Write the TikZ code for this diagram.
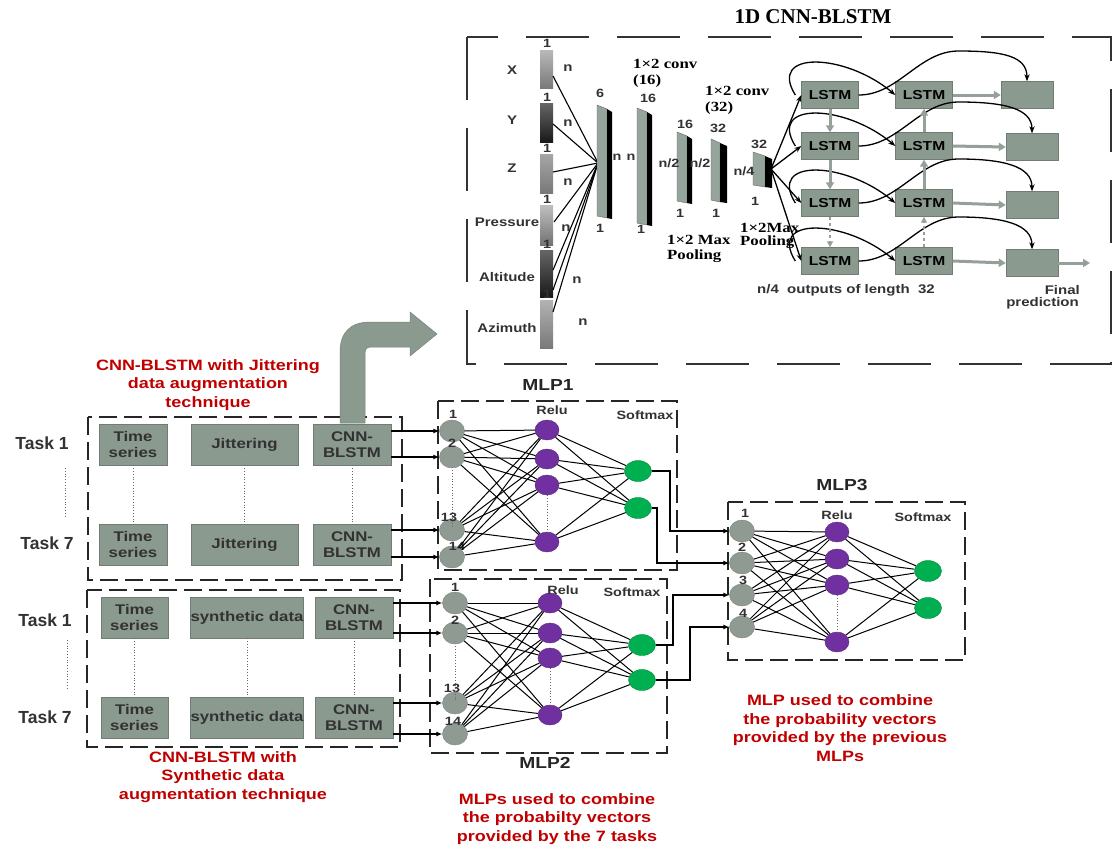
\documentclass[tikz,border=0pt]{standalone}
\usepackage{fontspec}
\setmainfont{Liberation Sans}
\newfontfamily\wsans[FakeStretch=1.2]{Liberation Sans}
\newfontfamily\wserif[FakeStretch=1.2]{Liberation Serif}
\newfontfamily\tserif{Liberation Serif}
\usetikzlibrary{shapes.geometric,arrows.meta}
\definecolor{boxgray}{RGB}{139,154,143}
\definecolor{boxedge}{RGB}{112,124,116}
\definecolor{nodegray}{RGB}{143,155,146}
\definecolor{purp}{RGB}{112,48,160}
\definecolor{grn}{RGB}{0,176,80}
\definecolor{redc}{RGB}{192,0,0}
\definecolor{txt}{RGB}{50,50,50}
\definecolor{arrgray}{RGB}{150,160,152}
\definecolor{barfront}{RGB}{150,165,155}
\newcommand\cnnblk[5]{%
  \fill[barfront,draw=black!60,line width=0.4pt] (#1,#2) -- (#3,#2+4) -- (#3,#4) -- (#1,#4-2) -- cycle;
  \fill[black] (#3,#2+4) -- (#5,#2+7) -- (#5,#4+1) -- (#3,#4) -- cycle;}
\begin{document}
\begin{tikzpicture}[x=1pt,y=-1pt,
  pbox/.style={draw=boxedge,fill=boxgray,line width=0.6pt,inner sep=0pt,
    font=\wsans\bfseries\fontsize{14}{15.5}\selectfont,text=txt,align=center},
  tasklbl/.style={font=\bfseries\fontsize{17.5}{20}\selectfont,text=txt},
  redlbl/.style={font=\wsans\bfseries\fontsize{15}{18.5}\selectfont,text=redc,align=center},
  mlptitle/.style={font=\wsans\bfseries\fontsize{16}{18}\selectfont,text=black!85},
  small/.style={font=\wsans\bfseries\fontsize{12}{13}\selectfont,text=txt,inner sep=0pt},
  inlbl/.style={font=\wsans\bfseries\fontsize{12.5}{13}\selectfont,text=txt,inner sep=0pt},
  serlbl/.style={font=\wserif\bfseries\fontsize{14}{16}\selectfont,anchor=west,inner sep=0pt},
  dbox/.style={draw=black!85,line width=1.8pt,dash pattern=on 18pt off 7pt},
  tbox/.style={draw=black!80,line width=1.5pt,dash pattern=on 63pt off 28pt},
  inode/.style={ellipse,fill=nodegray,draw=nodegray!85!black,minimum width=25pt,minimum height=22pt,inner sep=0pt},
  rnode/.style={ellipse,fill=purp,draw=purp!80!black,minimum width=24pt,minimum height=20pt,inner sep=0pt},
  snode/.style={ellipse,fill=grn,draw=grn!80!black,minimum width=27pt,minimum height=21pt,inner sep=0pt},
  wire/.style={line width=1pt},
  arr/.style={line width=1.3pt,-{Latex[length=6pt,width=5pt]}},
  lstm/.style={draw=boxedge,fill=boxgray,minimum width=57pt,minimum height=27pt,inner sep=0pt,
    font=\wsans\bfseries\fontsize{13}{14}\selectfont},
  obox/.style={draw=boxedge,fill=boxgray,minimum width=52pt,minimum height=27pt,inner sep=0pt},
  garr/.style={draw=arrgray,line width=3pt,-{Triangle[length=7pt,width=8pt]}},
  gdash/.style={draw=arrgray,line width=1.6pt,dashed,-{Triangle[length=6pt,width=6pt]}},
  curv/.style={line width=1.3pt,-{Stealth[length=7pt]}},
  dots/.style={draw=black!60,line width=0.8pt,dotted}
]
\fill[white] (0,0) rectangle (1113,852);
\useasboundingbox (0,0) rectangle (1113,852);

% ================= top: 1D CNN-BLSTM =================
\draw[tbox] (467,37) rectangle (1111,364);
\node[font=\tserif\bfseries\fontsize{21}{24}\selectfont] (title) at (813,17) {1D CNN-BLSTM};

\node[inlbl] (lx) at (512,70) {X};
\node[inlbl] (ly) at (512,120) {Y};
\node[inlbl] (lz) at (512,168) {Z};
\node[inlbl] (lp) at (507,222) {Pressure};
\node[inlbl] (lal) at (507,277) {Altitude};
\node[inlbl] (laz) at (507,328) {Azimuth};

\shade[top color=gray!55,bottom color=gray!95!black] (540,50) rectangle (553,88);
\shade[top color=gray!80!black,bottom color=black!90] (540,103) rectangle (553,142);
\shade[top color=gray!70,bottom color=gray!95!black] (540,154) rectangle (553,193);
\shade[top color=gray!50,bottom color=gray!90!black] (540,205) rectangle (553,245);
\shade[top color=gray!80!black,bottom color=black!90] (540,250) rectangle (553,297);
\shade[top color=gray!60,bottom color=gray!95!black] (540,300) rectangle (553,348);

\foreach \i/\y in {1/43,2/97,3/148,4/199,5/244,6/294}
  \node[small] (one\i) at (547,\y) {1};
\node[inlbl] (nx) at (568,68) {n};
\node[inlbl] (ny) at (568,123) {n};
\node[inlbl] (nz) at (568,182) {n};
\node[inlbl] (np) at (566,228) {n};
\node[inlbl] (nal) at (577,280) {n};
\node[inlbl] (naz) at (583,322) {n};

\coordinate (conv) at (598,163);
\coordinate (ex) at (553,76);
\coordinate (ey) at (553,124);
\coordinate (ez) at (553,172);
\coordinate (ep) at (554,222);
\coordinate (eal) at (553,270);
\coordinate (eaz) at (553,312);
\coordinate (eaz2) at (553,290);
\foreach \c in {ex,ey,ez,ep,eal,eaz,eaz2}
  \draw[line width=1.1pt] (\c) -- (conv);

\cnnblk{597}{105}{607}{218}{612}
\cnnblk{637}{108}{647}{225}{652}
\cnnblk{677}{132}{687}{203}{692}
\cnnblk{711}{139}{720}{202}{727}
\cnnblk{753}{152}{765}{187}{772}

\node[small] (s6) at (600,93) {6};
\node[small] (s1a) at (600,228) {1};
\node[small] (sn1) at (617,157) {n};
\node[small] (s16a) at (648,98) {16};
\node[small] (sn2) at (631,157) {n};
\node[small] (s1b) at (641,229) {1};
\node[small] (s16b) at (685,124) {16};
\node[small] (sn3) at (669,163) {n/2};
\node[small] (s1c) at (680,213) {1};
\node[small] (s32a) at (718,128) {32};
\node[small] (sn4) at (700,163) {n/2};
\node[small] (s1d) at (716,213) {1};
\node[small] (s32b) at (759,144) {32};
\node[small] (sn5) at (744,171) {n/4};
\node[small] (s1e) at (755,201) {1};

\node[serlbl] (c16a) at (633,64) {1×2 conv};
\node[serlbl] (c16b) at (633,81) {(16)};
\node[serlbl] (c32a) at (705,91) {1×2 conv};
\node[serlbl] (c32b) at (705,108) {(32)};
\node[serlbl] (mp1a) at (667,240) {1×2 Max};
\node[serlbl] (mp1b) at (667,256) {Pooling};
\node[serlbl] (mp2a) at (740,228) {1×2Max};
\node[serlbl] (mp2b) at (740,242) {Pooling};

% LSTM grid
\foreach \r/\y in {1/95,2/146,3/203,4/261}{
  \node[lstm] (La\r) at (830,\y) {LSTM};
  \node[lstm] (Lb\r) at (924,\y) {LSTM};
}
\node[obox] (O1) at (1027,95) {};
\node[obox] (O2) at (1032,147) {};
\node[obox] (O3) at (1032,205) {};
\node[obox] (O4) at (1032,263) {};
\coordinate (b5) at (771,169);
\coordinate (fin) at (1090,263);

\foreach \r in {1,2,3,4}{
  \draw[curv] (b5) -- (La\r.west);
  \draw[garr] (Lb\r.east) -- (O\r.west);
  \draw[curv] ([xshift=-6pt]La\r.west) .. controls +(-28,-45) and +(-50,-42) .. (Lb\r.west);
  \draw[curv] (La\r.east) .. controls +(40,0) and +(-40,0) .. ([shift={(100,-44)}]La\r.east)
     .. controls +(45,0) and +(0,-25) .. (O\r.north);
}
\draw[garr] (O4.east) -- (fin);
\draw[garr] (La1.south) -- (La2.north);
\draw[garr] (La2.south) -- (La3.north);
\draw[gdash] (La3.south) -- (La4.north);
\draw[garr] (Lb2.north) -- (Lb1.south);
\draw[garr] (Lb3.north) -- (Lb2.south);
\draw[gdash] (Lb4.north) -- (Lb3.south);

\node[inlbl,anchor=west] (outs) at (757,290) {n/4\ \ outputs of length\ \ 32};
\node[inlbl,anchor=east] (fp1) at (1080,290) {Final};
\node[inlbl,anchor=east] (fp2) at (1079,303) {prediction};

% ================= left boxes =================
\draw[dbox] (88,417) rectangle (402,580);
\draw[dbox] (87,590) rectangle (400,747);

\node[redlbl] (redj) at (208,385) {CNN-BLSTM with Jittering\\data augmentation\\technique};
\node[redlbl] (reds) at (223,777) {CNN-BLSTM with\\Synthetic data\\augmentation technique};

\node[pbox,minimum width=68pt,minimum height=41pt] (jt1) at (133,444.5) {Time\\series};
\node[pbox,minimum width=107pt,minimum height=41pt] (jj1) at (244.5,444.5) {Jittering};
\node[pbox,minimum width=78pt,minimum height=41pt] (jc1) at (352,444.5) {CNN-\\BLSTM};
\node[pbox,minimum width=68pt,minimum height=41pt] (jt7) at (133,544.5) {Time\\series};
\node[pbox,minimum width=107pt,minimum height=41pt] (jj7) at (244.5,544.5) {Jittering};
\node[pbox,minimum width=78pt,minimum height=41pt] (jc7) at (352,544.5) {CNN-\\BLSTM};

\node[pbox,minimum width=67pt,minimum height=41pt] (st1) at (134.5,617.5) {Time\\series};
\node[pbox,minimum width=108pt,minimum height=41pt] (ss1) at (247,617.5) {synthetic data};
\node[pbox,minimum width=78pt,minimum height=41pt] (sc1) at (354,617.5) {CNN-\\BLSTM};
\node[pbox,minimum width=67pt,minimum height=41pt] (st7) at (134.5,717.5) {Time\\series};
\node[pbox,minimum width=108pt,minimum height=41pt] (ss7) at (247,717.5) {synthetic data};
\node[pbox,minimum width=78pt,minimum height=41pt] (sc7) at (354,717.5) {CNN-\\BLSTM};

\node[tasklbl] (tj1) at (42,443) {Task 1};
\node[tasklbl] (tj7) at (47,543) {Task 7};
\node[tasklbl] (ts1) at (45,620) {Task 1};
\node[tasklbl] (ts7) at (45,717) {Task 7};

\coordinate (dj1) at (65,468);
\coordinate (dj7) at (65,517);
\coordinate (ds1) at (67,640);
\coordinate (ds7) at (67,690);
\draw[dots] (dj1) -- (dj7);
\draw[dots] (ds1) -- (ds7);
\draw[dots] (jt1.south) -- (jt7.north);
\draw[dots] (jj1.south) -- (jj7.north);
\draw[dots] (jc1.south) -- (jc7.north);
\draw[dots] (st1.south) -- (st7.north);
\draw[dots] (ss1.south) -- (ss7.north);
\draw[dots] (sc1.south) -- (sc7.north);

% big bent arrow
\fill[boxgray,draw=boxgray!85!black,line width=0.5pt] (340,423) -- (340,352)
  .. controls (340,333) and (350,322) .. (370,322) -- (410,322) -- (410,312) -- (437,334)
  -- (410,356) -- (410,347) -- (371,347) .. controls (367,347) and (365,349) .. (365,353) -- (365,423) -- cycle;

% ================= MLP1 =================
\draw[dbox] (438,401) rectangle (677,570);
\node[mlptitle] (t1) at (548,385) {MLP1};
\foreach \n/\y in {1/431,2/457,3/530,4/557} \node[inode] (ai\n) at (452,\y) {};
\foreach \n/\y in {1/430,2/459,3/485,4/542} \node[rnode] (ar\n) at (547,\y) {};
\node[snode] (as1) at (638,471) {};
\node[snode] (as2) at (638,508) {};
\node[small] (an1) at (453,414) {1};
\node[small] (an2) at (452,443) {2};
\node[small] (an3) at (449,517) {13};
\node[small] (an4) at (457,546) {14};
\node[small] (arl) at (552,410) {Relu};
\node[small] (asl) at (645,415) {Softmax};
\foreach \p in {1,...,4}{\foreach \q in {1,...,4} \draw[wire] (ai\p) -- (ar\q);
  \foreach \q in {1,2} \draw[wire] (ar\p) -- (as\q);}
\draw[dots] (ai2.south) ++(0,2) -- ([yshift=-8pt]ai3.north);
\draw[dots] (ar3.south) -- (ar4.north);

% ================= MLP2 =================
\draw[dbox] (430,579) rectangle (667,753);
\node[mlptitle] (t2) at (545,763) {MLP2};
\foreach \n/\y in {1/603,2/633,3/703,4/734} \node[inode] (bi\n) at (455,\y) {};
\foreach \n/\y in {1/603,2/633,3/658,4/715} \node[rnode] (br\n) at (550,\y) {};
\node[snode] (bs1) at (642,645) {};
\node[snode] (bs2) at (642,680) {};
\node[small] (bn1) at (455,587) {1};
\node[small] (bn2) at (455,620) {2};
\node[small] (bn3) at (452,688) {13};
\node[small] (bn4) at (453,721) {14};
\node[small] (brl) at (563,590) {Relu};
\node[small] (bsl) at (632,592) {Softmax};
\foreach \p in {1,...,4}{\foreach \q in {1,...,4} \draw[wire] (bi\p) -- (br\q);
  \foreach \q in {1,2} \draw[wire] (br\p) -- (bs\q);}
\draw[dots] (bi2.south) ++(0,2) -- ([yshift=-8pt]bi3.north);
\draw[dots] (br3.south) -- (br4.north);

% ================= MLP3 =================
\draw[dbox] (728,502) rectangle (965,660);
\node[mlptitle] (t3) at (842,485) {MLP3};
\foreach \n/\y in {1/531,2/563,3/595,4/627} \node[inode] (ci\n) at (742,\y) {};
\foreach \n/\y in {1/532,2/559,3/585,4/642} \node[rnode] (cr\n) at (837,\y) {};
\node[snode] (cs1) at (928,571) {};
\node[snode] (cs2) at (928,608) {};
\node[small] (cn1) at (745,513) {1};
\node[small] (cn2) at (742,547) {2};
\node[small] (cn3) at (743,580) {3};
\node[small] (cn4) at (743,613) {4};
\node[small] (crl) at (837,515) {Relu};
\node[small] (csl) at (923,517) {Softmax};
\foreach \p in {1,...,4}{\foreach \q in {1,...,4} \draw[wire] (ci\p) -- (cr\q);
  \foreach \q in {1,2} \draw[wire] (cr\p) -- (cs\q);}
\draw[dots] (cr3.south) -- (cr4.north);

% ================= connectors =================
\draw[arr] (jc1.east |- ai1) -- (ai1.west);
\draw[arr] (jc1.east |- ai2) -- (ai2.west);
\draw[arr] (jc7.east |- ai3) -- (ai3.west);
\draw[arr] (jc7.east |- ai4) -- (ai4.west);
\draw[arr] (sc1.east |- bi1) -- (bi1.west);
\draw[arr] (sc1.east |- bi2) -- (bi2.west);
\draw[arr] (sc7.east |- bi3) -- (bi3.west);
\draw[arr] (sc7.east |- bi4) -- (bi4.west);

\coordinate (k1) at (670,0);
\coordinate (k2) at (657,0);
\coordinate (k3) at (673,0);
\coordinate (k4) at (690,0);
\draw[arr] (as1.east) -| (k1 |- ci1) -- (ci1.west);
\draw[arr] (as2.east) -| (k2 |- ci2) -- (ci2.west);
\draw[arr] (bs1.east) -| (k3 |- ci3) -- (ci3.west);
\draw[arr] (bs2.east) -| (k4 |- ci4) -- (ci4.west);

\node[redlbl] (redm2) at (557,819) {MLPs used to combine\\the probabilty vectors\\provided by the 7 tasks};
\node[redlbl] (redm3) at (840,728) {MLP used to combine\\the probability vectors\\provided by the previous\\MLPs};
\end{tikzpicture}
\end{document}
